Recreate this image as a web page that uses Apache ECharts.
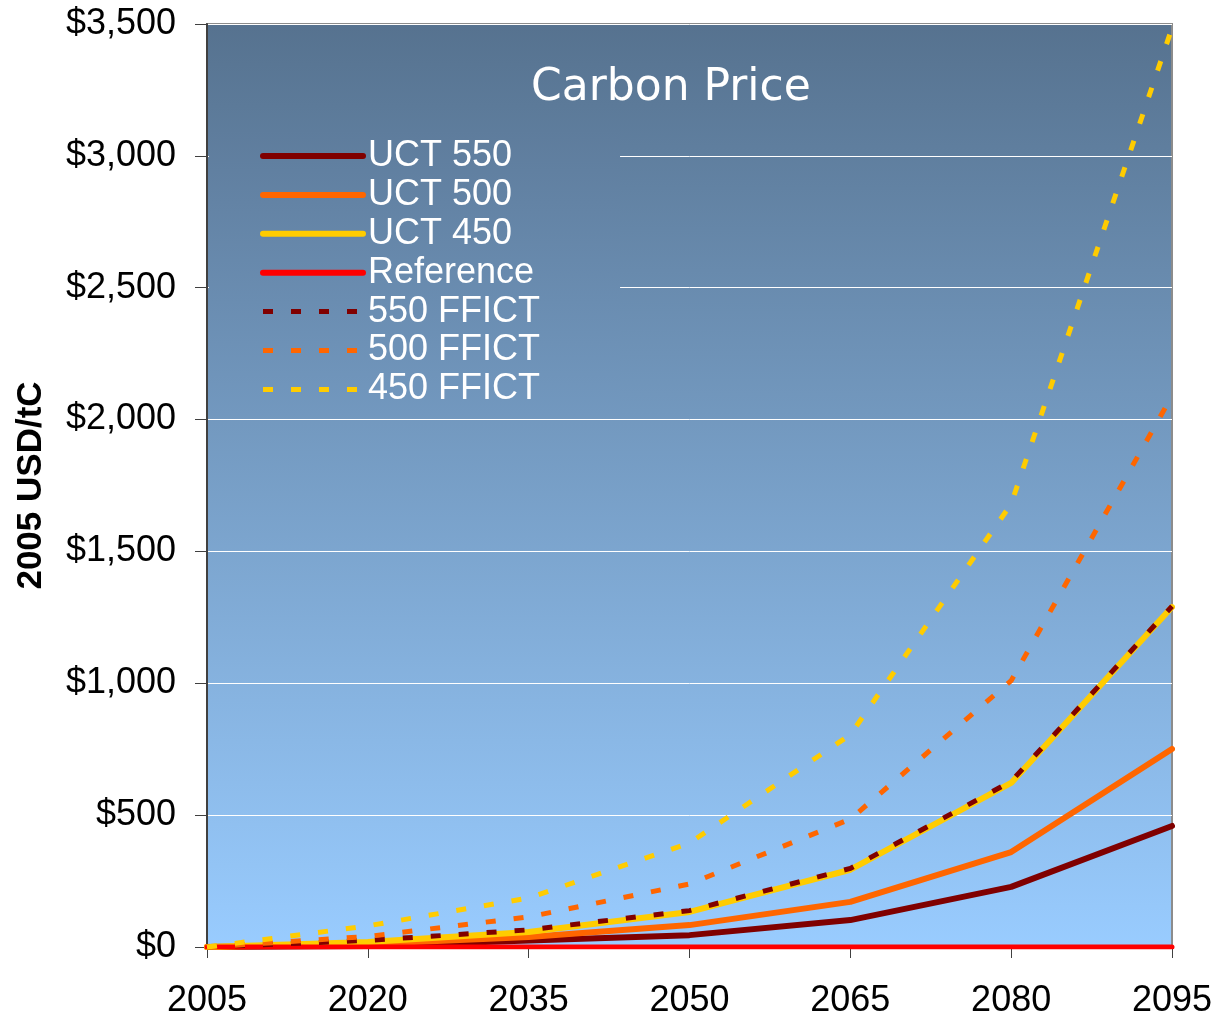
<!DOCTYPE html>
<html>
<head>
<meta charset="utf-8">
<script src="https://cdn.jsdelivr.net/npm/echarts@6/dist/echarts.min.js"></script>
<style>
html,body{margin:0;padding:0;background:#fff;}
#chart{width:1215px;height:1020px;}
</style>
</head>
<body>
<div id="chart"></div>
<script>
// ---- data ----
var years = ['2005', '2020', '2035', '2050', '2065', '2080', '2095'];
var yTicks = [0, 500, 1000, 1500, 2000, 2500, 3000, 3500];
var uct550 = [0, 4, 25, 45, 102, 228, 459];
var uct500 = [0, 11, 38, 83, 171, 360, 751];
var uct450 = [0, 19, 57, 133, 293, 622, 1289];
var reference = [0, 0, 0, 0, 0, 0, 0];
var ffict550 = [0, 25, 65, 138, 298, 628, 1292];
var ffict500 = [0, 40, 114, 239, 485, 1010, 2090];
var ffict450 = [0, 80, 186, 394, 805, 1680, 3485];

var chart = echarts.init(document.getElementById('chart'), null, {renderer: 'canvas'});

// plot background gradient
var TOP = [86, 114, 143], BOT = [153, 204, 255];
var plotTop = 24, plotBottom = 947;
function mix(t) {
  var c = TOP.map(function (a, i) { return Math.round(a + (BOT[i] - a) * t); });
  return 'rgb(' + c.join(',') + ')';
}
var legTop = 130, legBottom = 416;
var t0 = (legTop - plotTop) / (plotBottom - plotTop);
var t1 = (legBottom - plotTop) / (plotBottom - plotTop);

var colors = {u550: '#800000', u500: '#ff6600', u450: '#ffcc00', ref: '#ff0000'};
var dash = [10, 18];

function solid(name, data, color, width) {
  return {name: name, type: 'line', data: data, symbol: 'none', silent: true,
    lineStyle: {color: color, width: width, cap: 'round', join: 'round'},
    itemStyle: {color: color}};
}
function dashed(name, data, color) {
  return {name: name, type: 'line', data: data, symbol: 'none', silent: true,
    lineStyle: {color: color, width: 5, type: dash, cap: 'butt', join: 'miter'},
    itemStyle: {color: color}};
}

var legendSolid = {width: 6, type: 'solid', cap: 'round'};
var legendDash = {width: 5, type: dash, cap: 'butt'};
var noSymbol = {opacity: 0, borderWidth: 0};

var option = {
  animation: false,
  backgroundColor: '#ffffff',
  title: {
    text: 'Carbon Price',
    left: 526, top: 62,
    textStyle: {fontFamily: 'DejaVu Sans', fontWeight: 'normal', fontSize: 44, color: '#ffffff'}
  },
  grid: {
    left: 207, right: 43, top: 24, bottom: 73,
    containLabel: false,
    outerBoundsMode: 'none',
    show: true,
    borderColor: '#8c8c8c', borderWidth: 2,
    backgroundColor: new echarts.graphic.LinearGradient(0, 0, 0, 1, [
      {offset: 0, color: mix(0)}, {offset: 1, color: mix(1)}
    ])
  },
  legend: {
    orient: 'vertical',
    left: 209, top: legTop,
    padding: [8, 80, 8, 51],
    itemWidth: 100, itemHeight: 14,
    itemGap: 2.9,
    backgroundColor: new echarts.graphic.LinearGradient(0, 0, 0, 1, [
      {offset: 0, color: mix(t0)}, {offset: 1, color: mix(t1)}
    ]),
    textStyle: {fontFamily: 'Liberation Sans, Arial, sans-serif', fontSize: 36, lineHeight: 36, color: '#ffffff'},
    selectedMode: false,
    itemStyle: noSymbol,
    data: [
      {name: 'UCT 550', lineStyle: legendSolid, itemStyle: noSymbol},
      {name: 'UCT 500', lineStyle: legendSolid, itemStyle: noSymbol},
      {name: 'UCT 450', lineStyle: legendSolid, itemStyle: noSymbol},
      {name: 'Reference', lineStyle: legendSolid, itemStyle: noSymbol},
      {name: '550 FFICT', lineStyle: legendDash, itemStyle: noSymbol},
      {name: '500 FFICT', lineStyle: legendDash, itemStyle: noSymbol},
      {name: '450 FFICT', lineStyle: legendDash, itemStyle: noSymbol}
    ]
  },
  xAxis: {
    type: 'category',
    data: years,
    boundaryGap: false,
    axisLine: {lineStyle: {color: '#404040', width: 1}},
    axisTick: {show: true, length: 11, lineStyle: {color: '#404040', width: 1}},
    axisLabel: {margin: 36, fontFamily: 'Liberation Sans, Arial, sans-serif', fontSize: 36, color: '#000000'},
    splitLine: {show: false}
  },
  yAxis: {
    type: 'value',
    min: yTicks[0], max: yTicks[yTicks.length - 1], interval: yTicks[1] - yTicks[0],
    name: '2005 USD/tC',
    nameLocation: 'middle',
    nameGap: 158,
    nameRotate: 90,
    nameTextStyle: {fontFamily: 'Liberation Sans, Arial, sans-serif', fontSize: 35, fontWeight: 'bold', color: '#000000'},
    axisLine: {show: true, lineStyle: {color: '#404040', width: 2}},
    axisTick: {show: true, length: 12, lineStyle: {color: '#404040', width: 1}},
    axisLabel: {
      margin: 31, fontFamily: 'Liberation Sans, Arial, sans-serif', fontSize: 36, color: '#000000',
      formatter: function (v) { return '$' + v.toLocaleString('en-US'); }
    },
    splitLine: {show: true, lineStyle: {color: '#ffffff', width: 1}}
  },
  series: [
    solid('UCT 550', uct550, colors.u550, 6),
    solid('UCT 500', uct500, colors.u500, 6),
    solid('UCT 450', uct450, colors.u450, 6),
    solid('Reference', reference, colors.ref, 5),
    dashed('550 FFICT', ffict550, colors.u550),
    dashed('500 FFICT', ffict500, colors.u500),
    dashed('450 FFICT', ffict450, colors.u450)
  ]
};
chart.setOption(option);
</script>
</body>
</html>
